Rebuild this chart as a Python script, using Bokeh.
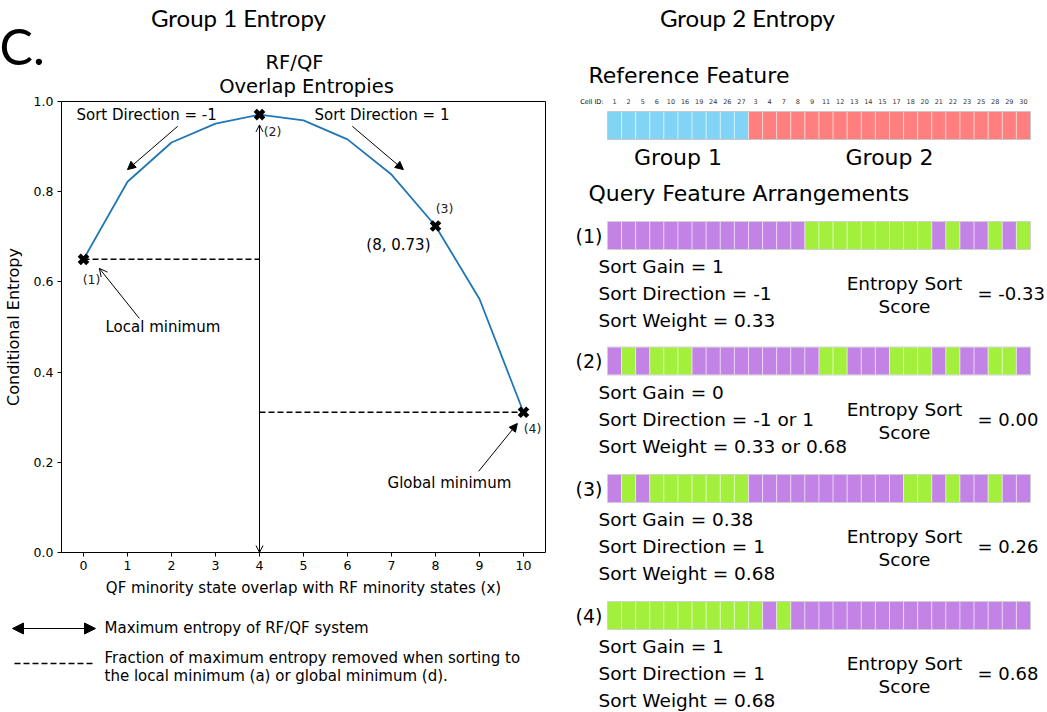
from bokeh.plotting import figure
from bokeh.models import (Range1d, FixedTicker, PrintfTickFormatter, Label, Arrow,
                          NormalHead, OpenHead, LinearAxis)
from bokeh.core.properties import value
from bokeh.embed import file_html
from bokeh.resources import INLINE

# ---------------- data ----------------
overlap_x = [0, 1, 2, 3, 4, 5, 6, 7, 8, 9, 10]
entropy = [0.650, 0.822, 0.909, 0.951, 0.971, 0.958, 0.916, 0.838, 0.724, 0.562, 0.311]
marked_idx = [0, 4, 8, 10]
marked_labels = ["(1)", "(2)", "(3)", "(4)"]
x_ticks = [0, 1, 2, 3, 4, 5, 6, 7, 8, 9, 10]
y_ticks = [0.0, 0.2, 0.4, 0.6, 0.8, 1.0]

cell_ids = [1, 2, 5, 6, 10, 16, 19, 24, 26, 27,
            3, 4, 7, 8, 9, 11, 12, 13, 14, 15, 17, 18, 20, 21, 22, 23, 25, 28, 29, 30]
reference_group = [1, 1, 1, 1, 1, 1, 1, 1, 1, 1,
                   2, 2, 2, 2, 2, 2, 2, 2, 2, 2, 2, 2, 2, 2, 2, 2, 2, 2, 2, 2]
# 1 = green state, 0 = purple state
query_1 = [0, 0, 0, 0, 0, 0, 0, 0, 0, 0, 0, 0, 0, 0, 1, 1, 1, 1, 1, 1, 1, 1, 1, 0, 1, 0, 0, 1, 0, 1]
query_2 = [0, 1, 0, 1, 1, 1, 0, 0, 0, 0, 0, 0, 0, 0, 0, 1, 1, 0, 0, 0, 1, 1, 1, 0, 1, 0, 0, 1, 1, 0]
query_3 = [0, 1, 0, 1, 1, 1, 1, 1, 1, 1, 0, 0, 0, 0, 0, 0, 0, 0, 0, 0, 0, 1, 1, 0, 1, 0, 0, 1, 0, 0]
query_4 = [1, 1, 1, 1, 1, 1, 1, 1, 1, 1, 1, 0, 1, 0, 0, 0, 0, 0, 0, 0, 0, 0, 0, 0, 0, 0, 0, 0, 0, 0]
queries = [query_1, query_2, query_3, query_4]
sort_gain = ["1", "0", "0.38", "1"]
sort_direction = ["-1", "-1 or 1", "1", "1"]
sort_weight = ["0.33", "0.33 or 0.68", "0.68", "0.68"]
entropy_sort_score = ["-0.33", "0.00", "0.26", "0.68"]

# ---------------- styles / layout ----------------
MPL = "DejaVu Sans"
HEAD = "Lato"
BLUE, RED = "#82d4f6", "#ff7f7f"
PURPLE, GREEN = "#c383e6", "#a3f03c"
LINE = "#1f77b4"

W, H = 1047, 712
FL, FR, FT, FB = 61, 545, 101, 552     # chart frame in page pixels
XMIN, XMAX, YMIN, YMAX = -0.5, 10.5, 0.0, 1.0
PXX = (FR - FL) / (XMAX - XMIN)
PXY = (FB - FT) / (YMAX - YMIN)
X0 = 607                                # left edge of first cell (page px)
CW = 423 / 30                           # cell width (page px)

p = figure(width=W, height=H, x_range=Range1d(0, W), y_range=Range1d(H, 0),
           output_backend="svg", toolbar_location=None, min_border=0,
           x_axis_location=None, y_axis_location=None)
p.grid.visible = False
p.outline_line_color = None
p.background_fill_color = "white"
p.border_fill_color = "white"

p.extra_x_ranges = {
    "cx": Range1d(XMIN - FL / PXX, XMAX + (W - FR) / PXX),
    "cells": Range1d(-X0 / CW, (W - X0) / CW),
}
p.extra_y_ranges = {"cy": Range1d(YMIN - (H - FB) / PXY, YMAX + FT / PXY)}
C = dict(x_range_name="cx", y_range_name="cy")

# ---------------- left chart ----------------
xaxis = LinearAxis(fixed_location=YMIN, bounds=(XMIN, XMAX), **C)
yaxis = LinearAxis(fixed_location=XMIN, bounds=(YMIN, YMAX), **C)
for ax in (xaxis, yaxis):
    ax.axis_line_color = None
    ax.major_tick_line_color = "black"
    ax.major_tick_out = 4
    ax.major_tick_in = 0
    ax.minor_tick_line_color = None
    ax.major_label_text_font = MPL
    ax.major_label_text_font_size = "12.5px"
    ax.major_label_text_color = "black"
    ax.axis_label_text_font = MPL
    ax.axis_label_text_font_style = "normal"
    ax.axis_label_text_color = "black"
    ax.major_label_standoff = 4
xaxis.axis_label_text_font_size = "15px"
yaxis.axis_label_text_font_size = "16px"
xaxis.ticker = FixedTicker(ticks=x_ticks)
yaxis.ticker = FixedTicker(ticks=y_ticks)
yaxis.formatter = PrintfTickFormatter(format="%.1f")
xaxis.axis_label = "QF minority state overlap with RF minority states (x)"
yaxis.axis_label = "Conditional Entropy"
xaxis.axis_label_standoff = 6
yaxis.axis_label_standoff = 8
p.add_layout(xaxis, "below")
p.add_layout(yaxis, "left")

# frame box
p.quad(left=[XMIN], right=[XMAX], bottom=[YMIN], top=[YMAX], fill_color=None,
       line_color="black", line_width=1, **C)

# curve
p.line(overlap_x, entropy, line_color=LINE, line_width=1.8, **C)

# dashed lines to minima
i0, i4, i8, i10 = marked_idx
p.line([overlap_x[i0], overlap_x[i4]], [entropy[i0], entropy[i0]],
       line_color="black", line_dash="6 3", line_width=1.5, **C)
p.line([overlap_x[i4], overlap_x[i10]], [entropy[i10], entropy[i10]],
       line_color="black", line_dash="6 3", line_width=1.5, **C)

# vertical double arrow (max entropy)
p.add_layout(Arrow(x_start=overlap_x[i4], y_start=YMIN, x_end=overlap_x[i4], y_end=entropy[i4] - 0.023,
                   line_width=1, line_color="black",
                   start=OpenHead(size=7, line_width=1), end=OpenHead(size=7, line_width=1), **C))

# markers
mx = [overlap_x[i] for i in marked_idx]
my = [entropy[i] for i in marked_idx]
p.scatter(mx, my, marker="x", size=12, line_width=4.5, line_color="black", **C)

label_offsets = [(8, -20), (13, -17), (9, 17), (9, -16)]
for k, i in enumerate(marked_idx):
    dx, dy = label_offsets[k]
    p.add_layout(Label(x=overlap_x[i], y=entropy[i], x_offset=dx, y_offset=dy,
                       text=marked_labels[k], text_font=MPL, text_font_size="12.5px",
                       text_align="center", text_baseline="middle", text_color="#222222", **C))
p.add_layout(Label(x=overlap_x[i8], y=entropy[i8], x_offset=-5, y_offset=-19,
                   text="(%d, %.2f)" % (overlap_x[i8], 0.73), text_font=MPL,
                   text_font_size="15px", text_align="right", text_baseline="middle",
                   text_color="black", **C))

# annotations
ann = dict(text_font=MPL, text_font_size="15px", text_baseline="middle", text_color="black")
p.add_layout(Label(x=-0.16, y=0.971, text="Sort Direction = -1", **ann, **C))
p.add_layout(Label(x=5.25, y=0.971, text="Sort Direction = 1", **ann, **C))
p.add_layout(Label(x=0.5, y=0.499, text="Local minimum", **ann, **C))
p.add_layout(Label(x=6.91, y=0.153, text="Global minimum", **ann, **C))
for (xs, ys, xe, ye, head) in [(2.14, 0.945, 1.0, 0.849, "n"), (6.11, 0.945, 7.27, 0.849, "n"),
                               (1.27, 0.519, 0.36, 0.63, "o"), (8.98, 0.18, 9.86, 0.286, "n")]:
    hd = NormalHead(size=8, line_width=1, fill_color="black") if head == "n" else OpenHead(size=8, line_width=1)
    p.add_layout(Arrow(x_start=xs, y_start=ys, x_end=xe, y_end=ye, line_width=1,
                       line_color="black", end=hd, **C))


def plabel(ix, iy, text, size, font=MPL, align="left", **kw):
    p.add_layout(Label(x=ix, y=iy, text=text, text_font=font, text_font_size=size,
                       text_align=align, text_baseline="middle", text_color="black", **kw))


# titles
plabel(294, 62, "RF/QF", "19.5px", align="center")
plabel(306, 86, "Overlap Entropies", "19.5px", align="center")
plabel(238, 17, "Group 1 Entropy", "24px", font=HEAD, align="center")
plabel(-1, 45, "C.", "50px", font=HEAD)
plabel(747, 17, "Group 2 Entropy", "24px", font=HEAD, align="center")

# legend below chart
p.add_layout(Arrow(x_start=12, y_start=628, x_end=95, y_end=628, line_width=1.2, line_color="black",
                   start=NormalHead(size=11, fill_color="black", line_width=1),
                   end=NormalHead(size=11, fill_color="black", line_width=1)))
plabel(104, 627, "Maximum entropy of RF/QF system", "15px")
p.line([14, 94], [663, 663], line_color="black", line_dash="6 3", line_width=1.5)
plabel(104, 657, "Fraction of maximum entropy removed when sorting to", "15px")
plabel(104, 675, "the local minimum (a) or global minimum (d).", "15px")

# ---------------- right panel ----------------
n = len(cell_ids)
xs = [i + 0.5 for i in range(n)]

plabel(588, 75, "Reference Feature", "22px")

p.text(x=xs, y=[101] * n, text=[str(c) for c in cell_ids], text_font=value(MPL),
       text_font_size="6.5px", text_align="center", text_baseline="middle", text_color="#333333",
       x_range_name="cells")
plabel(603, 101, "Cell ID:", "6.5px", align="right")

REF_Y, BAR_H = 125, 28
ref_colors = [BLUE if g == 1 else RED for g in reference_group]
p.rect(x=xs, y=[REF_Y] * n, width=1, height=BAR_H, fill_color=ref_colors,
       line_color="white", line_alpha=0.45, line_width=1, x_range_name="cells")
p.quad(left=[0], right=[n], top=[REF_Y - BAR_H / 2], bottom=[REF_Y + BAR_H / 2],
       fill_color=None, line_color="#c8c8c8", line_width=1, x_range_name="cells")
n1 = reference_group.count(1)
for gx, gname in [(n1 / 2, "Group 1"), (n1 + (n - n1) / 2, "Group 2")]:
    p.add_layout(Label(x=gx, y=157, text=gname, text_font=MPL, text_font_size="22px",
                       text_align="center", text_baseline="middle", text_color="black",
                       x_range_name="cells"))

plabel(588, 193, "Query Feature Arrangements", "22px")

row_y = [235, 360.5, 488, 615]
for k, qa in enumerate(queries):
    yb = row_y[k]
    cols = [GREEN if s == 1 else PURPLE for s in qa]
    p.rect(x=xs, y=[yb] * n, width=1, height=BAR_H, fill_color=cols,
           line_color="white", line_alpha=0.45, line_width=1, x_range_name="cells")
    p.quad(left=[0], right=[n], top=[yb - BAR_H / 2], bottom=[yb + BAR_H / 2],
           fill_color=None, line_color="#d0d0d0", line_width=1, x_range_name="cells")
    plabel(602, yb, "(%d)" % (k + 1), "19px", align="right")
    plabel(598, yb + 31, "Sort Gain = " + sort_gain[k], "18.5px")
    plabel(598, yb + 58, "Sort Direction = " + sort_direction[k], "18.5px")
    plabel(598, yb + 85, "Sort Weight = " + sort_weight[k], "18.5px")
    plabel(904, yb + 48, "Entropy Sort", "18.5px", align="center")
    plabel(904, yb + 71, "Score", "18.5px", align="center")
    plabel(977, yb + 58, "= " + entropy_sort_score[k], "18px")

open("out.html", "w").write(file_html(p, INLINE))
